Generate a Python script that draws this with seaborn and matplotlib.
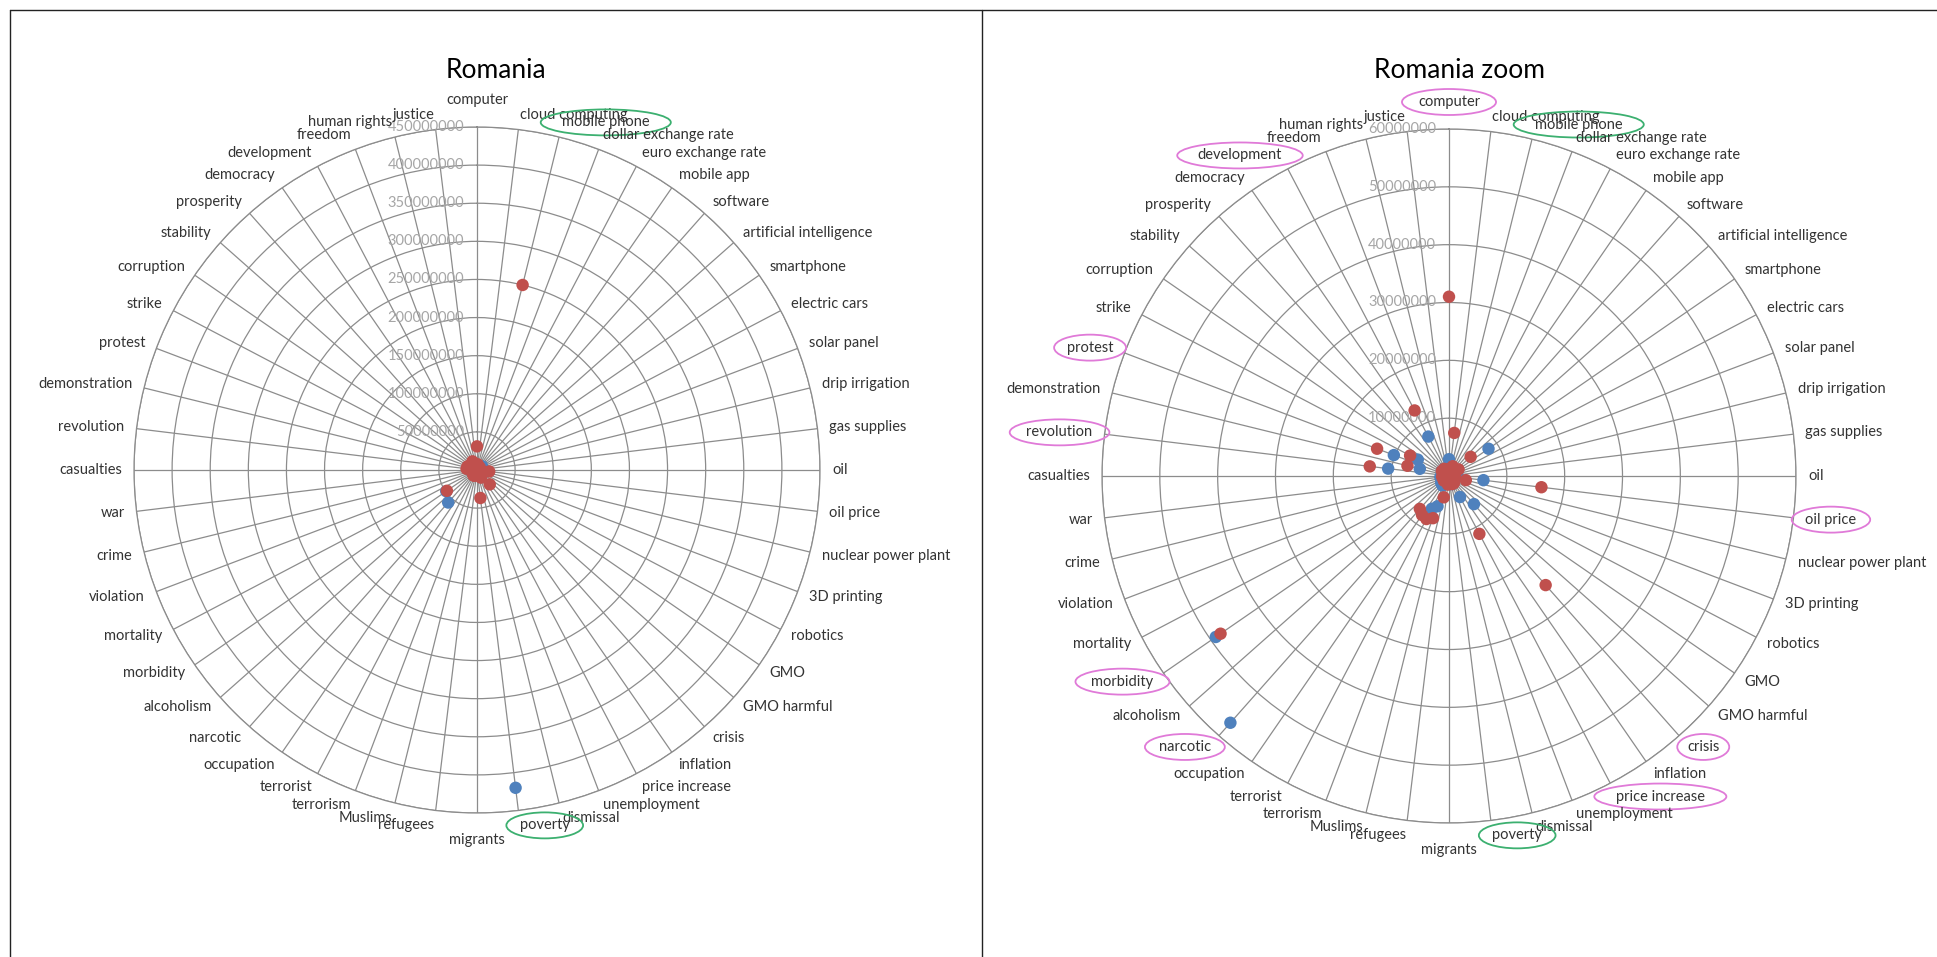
import numpy as np
import pandas as pd
import matplotlib
matplotlib.use("Agg")
import matplotlib.pyplot as plt
from matplotlib.lines import Line2D
import seaborn as sns

# categorie del radar, in senso orario a partire dall'alto
categories = ["computer", "cloud computing", "mobile phone", "dollar exchange rate",
              "euro exchange rate", "mobile app", "software", "artificial intelligence",
              "smartphone", "electric cars", "solar panel", "drip irrigation", "gas supplies",
              "oil", "oil price", "nuclear power plant", "3D printing", "robotics", "GMO",
              "GMO harmful", "crisis", "inflation", "price increase", "unemployment",
              "dismissal", "poverty", "migrants", "refugees", "Muslims", "terrorism",
              "terrorist", "occupation", "narcotic", "alcoholism", "morbidity", "mortality",
              "violation", "crime", "war", "casualties", "revolution", "demonstration",
              "protest", "strike", "corruption", "stability", "prosperity", "democracy",
              "development", "freedom", "human rights", "justice"]

# valori in milioni
red_mln = [31, 7.5, 250, 1.8, 1.5, 1.0, 1.5, 5.0, 2.0, 0.6, 0.8, 0.3, 1.0,
           1.0, 16.1, 3.0, 0.8, 1.0, 0.8, 0.6, 25.2, 1.5, 11.3, 1.5, 1.2, 37,
           1.2, 1.5, 3.8, 7.8, 8.4, 8.2, 7.6, 1.2, 48, 0.8, 0.6, 1.0, 1.2,
           1.0, 13.8, 7.4, 13.3, 7.6, 1.5, 1.0, 0.8, 1.5, 12.8, 1.2, 1.0, 1.2]
blue_mln = [2.9, 1.0, 1.5, 0.5, 0.6, 0.3, 1.0, 0.8, 8.3, 0.4, 0.5, 0.2, 0.8,
            1.5, 6.0, 0.8, 0.4, 0.6, 0.5, 0.3, 6.5, 1.0, 4.1, 1.5, 1.0, 420,
            1.0, 1.2, 1.0, 5.6, 6.4, 2.0, 57, 1.8, 49, 0.8, 0.6, 1.2, 1.5,
            1.0, 10.6, 5.2, 10.2, 6.1, 1.5, 1.0, 0.8, 1.5, 7.7, 1.0, 0.8, 1.0]

left_ticks = [50000000, 100000000, 150000000, 200000000, 250000000,
              300000000, 350000000, 400000000, 450000000]
zoom_ticks = [10000000, 20000000, 30000000, 40000000, 50000000, 60000000]

green_marked = ["mobile phone", "poverty"]
pink_marked = ["computer", "development", "protest", "revolution", "morbidity",
               "narcotic", "crisis", "price increase", "oil price"]
red_not_in_zoom = ["poverty"]  # nel grafico zoom il punto rosso di poverty non c'e'

RED = "#c0504d"
BLUE = "#4f81bd"
GRID = "#8c8c8c"
GREEN = "#3cb070"
PINK = "#e07ad8"

sns.set_style("white")
plt.rcParams["font.family"] = ["Lato", "DejaVu Sans"]

df = pd.DataFrame({"category": categories,
                   "red": np.array(red_mln) * 1e6,
                   "blue": np.array(blue_mln) * 1e6})
df["theta"] = np.arange(len(categories)) * 2 * np.pi / len(categories)

W, H = 1937, 957
fig = plt.figure(figsize=(W / 100, H / 100), dpi=100)


def polar_axes(cx, cy, r):
    return fig.add_axes([(cx - r) / W, (H - cy - r) / H, 2 * r / W, 2 * r / H], projection="polar")


def radar(ax, red_df, blue_df, rmax, ticks, marked_pink):
    ax.set_theta_zero_location("N")
    ax.set_theta_direction(-1)
    sns.scatterplot(data=blue_df, x="theta", y="blue", color=BLUE, s=80,
                    edgecolor="none", legend=False, ax=ax, zorder=3)
    sns.scatterplot(data=red_df, x="theta", y="red", color=RED, s=80,
                    edgecolor="none", legend=False, ax=ax, zorder=4)
    ax.set_ylim(0, rmax)
    ax.set_xticks(df["theta"])
    ax.set_xticklabels([])
    ax.set_yticks(ticks)
    ax.set_yticklabels([])
    ax.set_xlabel("")
    ax.set_ylabel("")
    ax.grid(True, color=GRID, lw=0.9)
    ax.spines["polar"].set_color(GRID)
    ax.spines["polar"].set_linewidth(0.9)
    for t in ticks:
        ax.annotate(str(t), xy=(0, t), xytext=(-13, 0), textcoords="offset pixels",
                    ha="right", va="center", color="#a6a6a6", fontsize=10.5,
                    annotation_clip=False)
    texts = []
    for cat, th in zip(df["category"], df["theta"]):
        box = None
        if cat in green_marked:
            box = dict(boxstyle="ellipse,pad=0.15", fc="none", ec=GREEN, lw=1.3)
        elif cat in marked_pink:
            box = dict(boxstyle="ellipse,pad=0.15", fc="none", ec=PINK, lw=1.3)
        s = np.sin(th)
        ha = "center" if abs(s) < 0.02 else ("left" if s > 0 else "right")
        t = ax.annotate(cat, xy=(th, rmax), xytext=(0, 0), textcoords="offset pixels",
                        ha=ha, va="center", fontsize=10.5, color="#333333",
                        bbox=box, annotation_clip=False)
        texts.append((t, th))
    return texts


ax1 = polar_axes(477, 470, 343)
lab1 = radar(ax1, df, df, 450000000, left_ticks, [])

ax2 = polar_axes(1449, 476, 347)
lab2 = radar(ax2, df[~df["category"].isin(red_not_in_zoom)], df, 60000000, zoom_ticks, pink_marked)

# etichette fuori dal cerchio come in Excel
fig.canvas.draw()
renderer = fig.canvas.get_renderer()
pad_x, pad_y = 12, 8
for t, th in lab1 + lab2:
    bb = t.get_window_extent(renderer)
    s, c = np.sin(th), np.cos(th)
    extra = 12 if abs(s) < 0.02 else 0
    t.xyann = (pad_x * s, (pad_y + extra + bb.height / 2) * c)

fig.text(496 / W, 1 - 70 / H, "Romania", ha="center", va="center", fontsize=19, color="black")
fig.text(1460 / W, 1 - 70 / H, "Romania zoom", ha="center", va="center", fontsize=19, color="black")

# bordi della tabella
fig.add_artist(Line2D([10 / W, 1], [1 - 10 / H, 1 - 10 / H], color="#222222", lw=1, transform=fig.transFigure))
fig.add_artist(Line2D([10 / W, 10 / W], [0, 1 - 10 / H], color="#222222", lw=1, transform=fig.transFigure))
fig.add_artist(Line2D([982 / W, 982 / W], [0, 1 - 10 / H], color="#222222", lw=1, transform=fig.transFigure))

fig.savefig("out.png", dpi=100)
